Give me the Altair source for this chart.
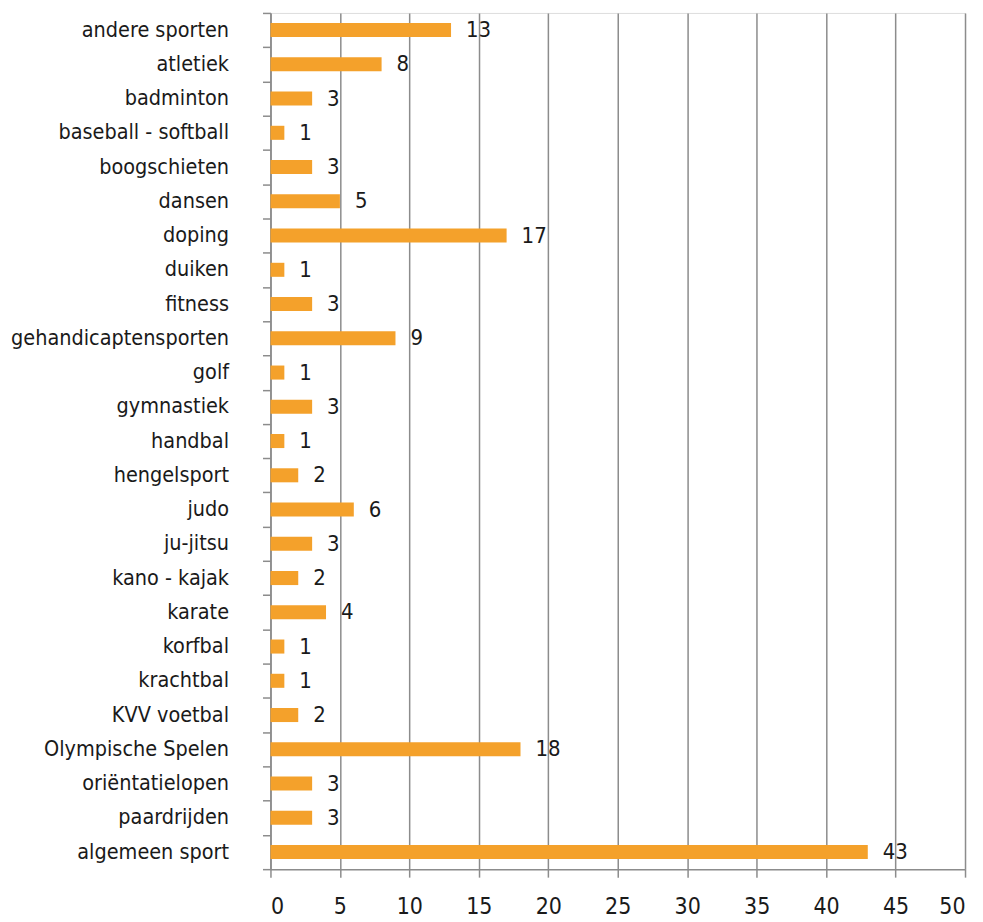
import altair as alt
import pandas as pd

categories = ["andere sporten", "atletiek", "badminton", "baseball - softball", "boogschieten",
              "dansen", "doping", "duiken", "fitness", "gehandicaptensporten", "golf",
              "gymnastiek", "handbal", "hengelsport", "judo", "ju-jitsu", "kano - kajak",
              "karate", "korfbal", "krachtbal", "KVV voetbal", "Olympische Spelen",
              "oriëntatielopen", "paardrijden", "algemeen sport"]
values = [13, 8, 3, 1, 3, 5, 17, 1, 3, 9, 1, 3, 1, 2, 6, 3, 2, 4, 1, 1, 2, 18, 3, 3, 43]

df = pd.DataFrame({"cat": categories, "val": values})

FONT = "DejaVu Sans Condensed"
GRID = "#8c8c8c"

y_enc = alt.Y("cat:N", sort=categories, title=None,
              scale=alt.Scale(paddingInner=0, paddingOuter=0),
              axis=alt.Axis(tickBand="extent", domainColor=GRID, domainWidth=1.5,
                            tickColor=GRID, tickWidth=1.5, tickSize=8,
                            labelFont=FONT, labelFontSize=21.5, labelColor="#1a1a1a",
                            labelPadding=34, labelLimit=400, grid=False))
x_enc = alt.X("val:Q", title=None,
              scale=alt.Scale(domain=[0, 50], nice=False),
              axis=alt.Axis(values=list(range(0, 51, 5)), grid=True, gridColor=GRID,
                            gridWidth=1.5, domainColor=GRID, domainWidth=1.5,
                            tickColor=GRID, tickWidth=1.5, tickSize=8,
                            labelFont=FONT, labelFontSize=23, labelColor="#1a1a1a",
                            labelPadding=18))

bars = alt.Chart(df).mark_bar(color="#F4A12B", height=alt.RelativeBandSize(0.41)).encode(
    y=y_enc, x=x_enc)
texts = alt.Chart(df).mark_text(align="left", baseline="middle", dx=15, font=FONT,
                                fontSize=22, color="#1a1a1a").encode(
    y=alt.Y("cat:N", sort=categories), x="val:Q", text="val:Q")

chart = (bars + texts).properties(
    width=696, height=858,
    autosize=alt.AutoSizeParams(type="none"),
    padding={"left": 263, "top": 4, "right": 10, "bottom": 50},
).configure_view(stroke=None).configure(background="white")

chart.save("out.html", embed_options={"renderer": "svg", "actions": False})
